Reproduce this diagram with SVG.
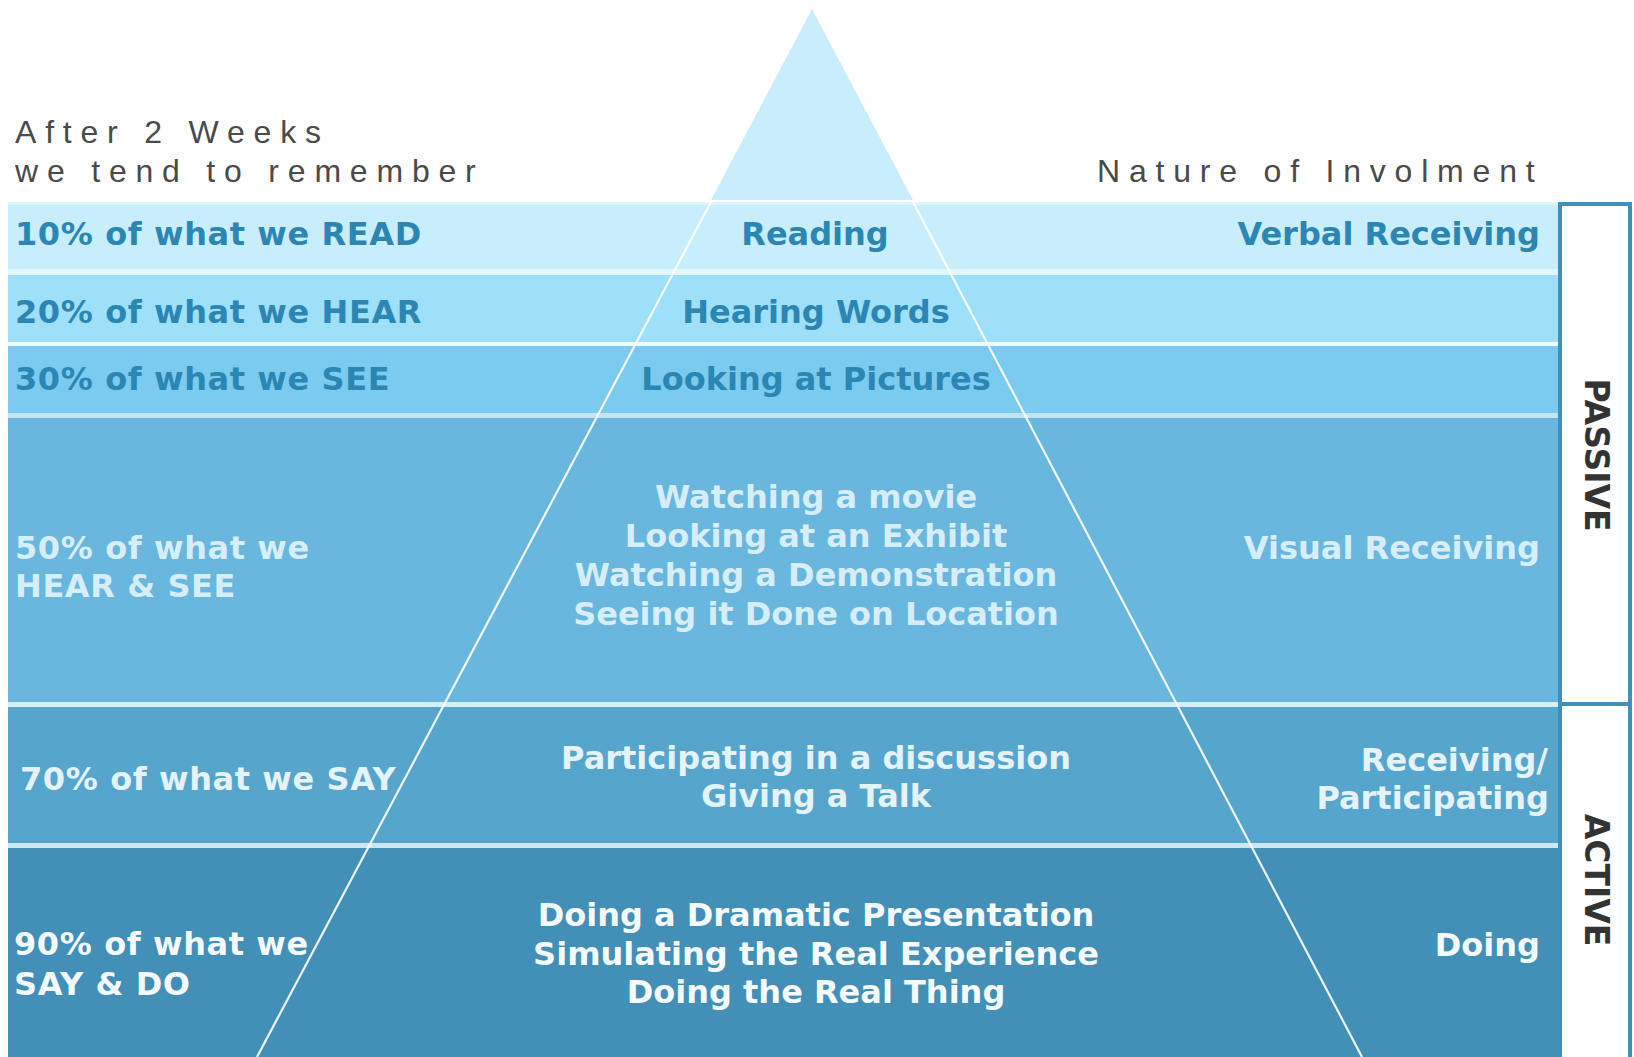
<svg xmlns="http://www.w3.org/2000/svg" width="1634" height="1057" viewBox="0 0 1634 1057">
<style>
.hdr{font-family:"Liberation Sans",Arial,sans-serif;font-size:32px;fill:#4a4a4a;letter-spacing:8.8px}
.lb{font-family:"DejaVu Sans",Verdana,sans-serif;font-weight:bold;font-size:32px}
.l{letter-spacing:0.6px}
.c{text-anchor:middle}
.r{text-anchor:end}
.t1{fill:#2c86b3}
.t4{fill:#d6eefa}
.t5{fill:#e4f2f9}
.t6{fill:#f4fafd}
.side{font-family:"DejaVu Sans",Verdana,sans-serif;font-weight:bold;font-size:33px;fill:#333;text-anchor:middle}
.pl{stroke:#ffffff;stroke-width:2.2;fill:none;opacity:0.9}
</style>
<rect width="1634" height="1057" fill="#ffffff"/>

<g id="apex">
<polygon points="812,9 711,200 913,200" fill="#c8eefd"/>
</g>

<g id="headers">
<text class="hdr" x="15" y="143">After 2 Weeks</text>
<text class="hdr" x="15" y="182">we tend to remember</text>
<text class="hdr" x="1097" y="182">Nature of Involment</text>
</g>

<g id="band-read">
<rect x="8" y="202" width="1550" height="67" fill="#c8eefd"/>
<rect x="8" y="202" width="1550" height="3" fill="#dff6fe"/>
<rect x="8" y="269" width="1550" height="6" fill="#e2f6fd"/>
<text class="lb l t1" x="15" y="245">10% of what we READ</text>
<text class="lb t1 c" x="815" y="245">Reading</text>
<text class="lb t1 r" x="1540" y="245">Verbal Receiving</text>
</g>

<g id="band-hear">
<rect x="8" y="275" width="1550" height="67" fill="#9edffa"/>
<rect x="8" y="342" width="1550" height="4" fill="#f0faff"/>
<text class="lb l t1" x="15" y="323">20% of what we HEAR</text>
<text class="lb t1 c" x="816" y="323">Hearing Words</text>
</g>

<g id="band-see">
<rect x="8" y="346" width="1550" height="67" fill="#7bcaef"/>
<rect x="8" y="413" width="1550" height="5" fill="#bfe5f6"/>
<text class="lb l t1" x="15" y="390">30% of what we SEE</text>
<text class="lb t1 c" x="816" y="390">Looking at Pictures</text>
</g>

<g id="band-hearsee">
<rect x="8" y="418" width="1550" height="284" fill="#69b7de"/>
<rect x="8" y="702" width="1550" height="5" fill="#d6eef9"/>
<text class="lb l t4" x="15" y="559">50% of what we</text>
<text class="lb l t4" x="15" y="597">HEAR &amp; SEE</text>
<text class="lb t4 c" x="816" y="508">Watching a movie</text>
<text class="lb t4 c" x="816" y="547">Looking at an Exhibit</text>
<text class="lb t4 c" x="816" y="586">Watching a Demonstration</text>
<text class="lb t4 c" x="816" y="625">Seeing it Done on Location</text>
<text class="lb t4 r" x="1540" y="559">Visual Receiving</text>
</g>

<g id="band-say">
<rect x="8" y="707" width="1550" height="136" fill="#56a5cd"/>
<rect x="8" y="843" width="1550" height="5" fill="#cde6f2"/>
<text class="lb l t5" x="20" y="790">70% of what we SAY</text>
<text class="lb t5 c" x="816" y="769">Participating in a discussion</text>
<text class="lb t5 c" x="816" y="807">Giving a Talk</text>
<text class="lb t5 r" x="1548" y="771">Receiving/</text>
<text class="lb t5 r" x="1549" y="809">Participating</text>
</g>

<g id="band-do">
<rect x="8" y="848" width="1550" height="209" fill="#428fb7"/>
<text class="lb l t6" x="14" y="955">90% of what we</text>
<text class="lb l t6" x="14" y="995">SAY &amp; DO</text>
<text class="lb t6 c" x="816" y="926">Doing a Dramatic Presentation</text>
<text class="lb t6 c" x="816" y="965">Simulating the Real Experience</text>
<text class="lb t6 c" x="816" y="1003">Doing the Real Thing</text>
<text class="lb t6 r" x="1540" y="956">Doing</text>
</g>

<g id="connectors">
<line class="pl" x1="712" y1="200" x2="257" y2="1057"/>
<line class="pl" x1="912" y1="200" x2="1362" y2="1057"/>
</g>

<g id="mode-box">
<rect x="1560" y="204" width="70" height="860" fill="#ffffff" stroke="#3f90bd" stroke-width="4"/>
<line x1="1560" y1="704" x2="1630" y2="704" stroke="#3f90bd" stroke-width="4"/>
<text class="side" transform="translate(1585 455) rotate(90)">PASSIVE</text>
<text class="side" transform="translate(1585 880) rotate(90)">ACTIVE</text>
</g>
</svg>
